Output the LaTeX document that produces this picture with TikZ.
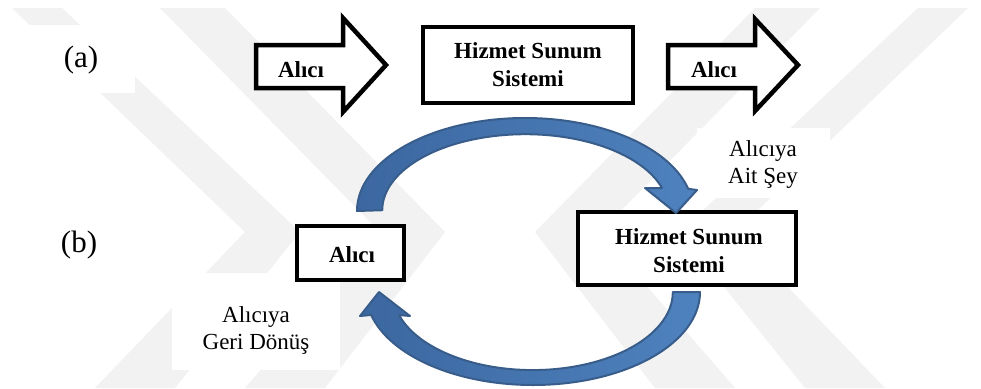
\documentclass[tikz,border=0pt]{standalone}
\usepackage{fontspec}
\setmainfont{Liberation Serif}
\definecolor{flowfill}{RGB}{78,130,190}
\definecolor{flowfilldark}{RGB}{60,103,160}
\definecolor{flowedge}{RGB}{56,93,138}
\begin{document}
\begin{tikzpicture}[x=1pt,y=-1pt,
  blockarrow/.style={draw=black,line width=4.5pt,fill=white,line join=miter},
  box/.style={draw=black,line width=4.5pt,fill=white,inner sep=0pt},
  boxtext/.style={font=\fontsize{23}{28}\selectfont\bfseries,align=center,inner sep=0pt},
  note/.style={font=\fontsize{23}{27}\selectfont,align=center,inner sep=0pt},
  tag/.style={font=\fontsize{31}{34}\selectfont,inner sep=0pt},
  band/.style={fill=black!5,draw=none},
  loopflow/.style={draw=flowedge,line width=2pt,left color=flowfilldark,right color=flowfill,line join=round}
]
\useasboundingbox (0,0) rectangle (981,388);
\fill[white] (0,0) rectangle (981,388);

% faint background chevrons
\fill[band] (12,8) -- (62,8) -- (300,232) -- (175,388) -- (95,388) -- (245,232) -- cycle;
\fill[band] (160,8) -- (225,8) -- (445,232) -- (325,388) -- (245,388) -- (380,232) -- cycle;
\fill[band] (968,8) -- (918,8) -- (680,232) -- (805,388) -- (885,388) -- (735,232) -- cycle;
\fill[band] (820,8) -- (755,8) -- (535,232) -- (655,388) -- (735,388) -- (600,232) -- cycle;

% white patches behind the captions
\fill[white] (30,25) rectangle (135,93);
\fill[white] (697,128) rectangle (830,198);
\fill[white] (172,273) rectangle (340,370);

% row (a): block arrows around the service box
\draw[blockarrow] (256,45) -- (343,45) -- (343,18) -- (386,65) -- (343,112) -- (343,88) -- (256,88) -- cycle;
\draw[blockarrow] (668,45) -- (755,45) -- (755,19) -- (798,65) -- (755,111) -- (755,88) -- (668,88) -- cycle;
\node[box,minimum width=210,minimum height=76] (sysA) at (528,65) {};
\node[boxtext] (sysAtext) at (sysA.center) {Hizmet Sunum\\Sistemi};
\node[boxtext] (inA) at (301,70) {Alıcı};
\node[boxtext] (outA) at (714,70) {Alıcı};
\node[tag] (tagA) at (81,60) {(a)};

% row (b): the loop between customer and service system
\node[box,minimum width=107,minimum height=54] (custB) at (350.5,253) {};
\node[boxtext] (custBtext) at (352,255) {Alıcı};
\node[box,minimum width=218,minimum height=73] (sysB) at (687,248.5) {};
\node[boxtext] (sysBtext) at (689,251) {Hizmet Sunum\\Sistemi};
\node[tag] (tagB) at (79,245) {(b)};

% curved arrow from the customer over to the service system
\draw[loopflow] (357,211) arc[start angle=180,end angle=346.2,x radius=168,y radius=93]
  -- (697,190) -- (676,213) -- (645,188) -- (662,188)
  arc[start angle=343,end angle=180,x radius=143,y radius=76] -- cycle;

% curved arrow returning underneath to the customer
\draw[loopflow] (700,292) arc[start angle=0,end angle=165.7,x radius=167,y radius=93]
  -- (360,316) -- (379,292) -- (410,316) -- (399,315)
  arc[start angle=162.9,end angle=0,x radius=140,y radius=78] -- cycle;

\node[note] (given) at (763,164) {Alıcıya\\Ait Şey};
\node[note] (back) at (256,330) {Alıcıya\\Geri Dönüş};
\end{tikzpicture}
\end{document}
